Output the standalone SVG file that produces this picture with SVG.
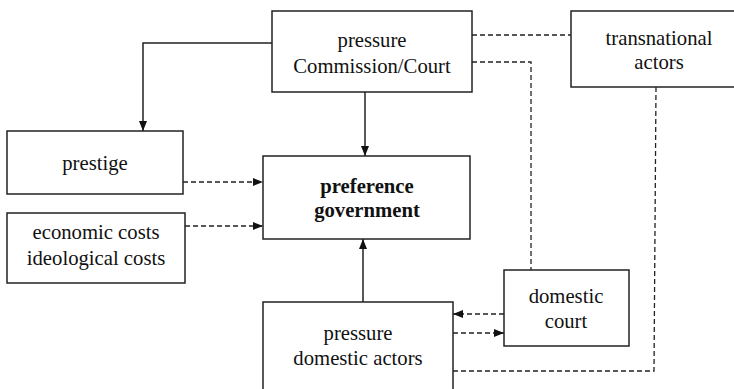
<svg xmlns="http://www.w3.org/2000/svg" width="734" height="389" viewBox="0 0 734 389">
<style>
.box{fill:#fff;stroke:#222;stroke-width:1.5}
.t{font-family:"Liberation Serif","Times New Roman",serif;font-size:20.7px;fill:#111;text-anchor:middle}
.b{font-weight:bold}
.s{fill:none;stroke:#222;stroke-width:1.5}
.d{fill:none;stroke:#222;stroke-width:1.3;stroke-dasharray:5,3}
</style>
<defs>
<marker id="ah" markerWidth="10" markerHeight="10" refX="10" refY="5" orient="auto" markerUnits="userSpaceOnUse">
<path d="M0,1 L10,5 L0,9 Z" fill="#111"/>
</marker>
</defs>
<rect width="734" height="389" fill="#fff"/>
<g id="connectors">
<polyline class="s" points="272,43 143,43 143,131" marker-end="url(#ah)"/>
<line class="s" x1="365" y1="92" x2="365" y2="156" marker-end="url(#ah)"/>
<line class="d" x1="183" y1="182" x2="263" y2="182" marker-end="url(#ah)"/>
<line class="d" x1="185" y1="226" x2="263" y2="226" marker-end="url(#ah)"/>
<line class="s" x1="363" y1="302" x2="363" y2="239" marker-end="url(#ah)"/>
<line class="d" x1="472" y1="35" x2="571" y2="35"/>
<polyline class="d" points="472,62 531,62 531,270"/>
<polyline class="d" points="656,87 654,371 453,371"/>
<line class="d" x1="504" y1="314" x2="453" y2="314" marker-end="url(#ah)"/>
<line class="d" x1="453" y1="333" x2="504" y2="333" marker-end="url(#ah)"/>
</g>
<g id="commission">
<rect class="box" x="272" y="11" width="200" height="81"/>
<text class="t" x="372" y="47">pressure</text>
<text class="t" x="372" y="73">Commission/Court</text>
</g>
<g id="transnational">
<rect class="box" x="571" y="11" width="176" height="76"/>
<text class="t" x="659" y="45">transnational</text>
<text class="t" x="659" y="69">actors</text>
</g>
<g id="prestige">
<rect class="box" x="7" y="131" width="176" height="63"/>
<text class="t" x="95" y="170">prestige</text>
</g>
<g id="costs">
<rect class="box" x="7" y="213" width="178" height="70"/>
<text class="t" x="96" y="239">economic costs</text>
<text class="t" x="96" y="265">ideological costs</text>
</g>
<g id="preference">
<rect class="box" x="263" y="156" width="207" height="83"/>
<text class="t b" x="367" y="193">preference</text>
<text class="t b" x="367" y="217">government</text>
</g>
<g id="domesticcourt">
<rect class="box" x="504" y="270" width="125" height="76"/>
<text class="t" x="566" y="303">domestic</text>
<text class="t" x="566" y="328">court</text>
</g>
<g id="domesticactors">
<rect class="box" x="263" y="302" width="190" height="100"/>
<text class="t" x="358" y="340">pressure</text>
<text class="t" x="358" y="365">domestic actors</text>
</g>
</svg>
